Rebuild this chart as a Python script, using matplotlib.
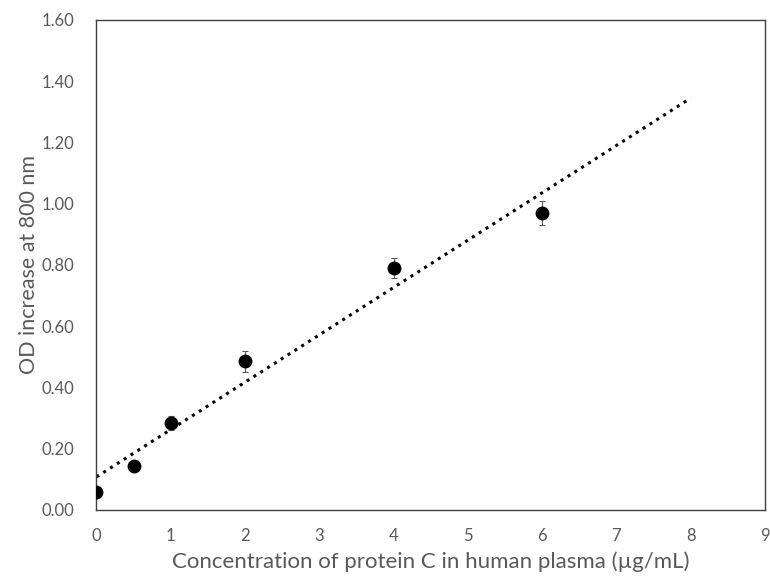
import numpy as np
import matplotlib.pyplot as plt

plt.rcParams['font.family'] = ['Lato', 'DejaVu Sans']

conc = [0, 0.5, 1, 2, 4, 6]
od = [0.06, 0.145, 0.285, 0.485, 0.79, 0.97]
err = [0.01, 0.01, 0.023, 0.033, 0.034, 0.038]

# linear trend line, forecast forward to 8
slope, icpt = np.polyfit(conc, od, 1)
xt = np.linspace(0, 8, 100)

fig = plt.figure(figsize=(7.7, 5.79), dpi=100)
ax = fig.add_axes([0.1253, 0.1192, 0.868, 0.8463])

ax.plot(xt, slope * xt + icpt, ':', color='black', lw=2.2, zorder=2)
ax.errorbar(conc, od, yerr=err, fmt='o', color='black', ms=9,
            ecolor='#595959', elinewidth=0.8, capsize=2.5, capthick=0.8, zorder=3)

ax.set_xlim(0, 9)
ax.set_ylim(0, 1.6)
ax.set_xticks(range(10))
ax.set_yticks(np.arange(0, 1.61, 0.2))
ax.set_yticklabels(['%.2f' % v for v in np.arange(0, 1.61, 0.2)])
ax.tick_params(length=0, labelsize=12, labelcolor='#595959')
ax.tick_params(axis='x', pad=13)
ax.tick_params(axis='y', pad=16)
for s in ax.spines.values():
    s.set_color('#404040')
    s.set_linewidth(1)

ax.set_xlabel('Concentration of protein C in human plasma (µg/mL)', fontsize=16, color='#595959', labelpad=5)
ax.set_ylabel('OD increase at 800 nm', fontsize=15.5, color='#595959', labelpad=2)

plt.savefig('out.png', dpi=100)
